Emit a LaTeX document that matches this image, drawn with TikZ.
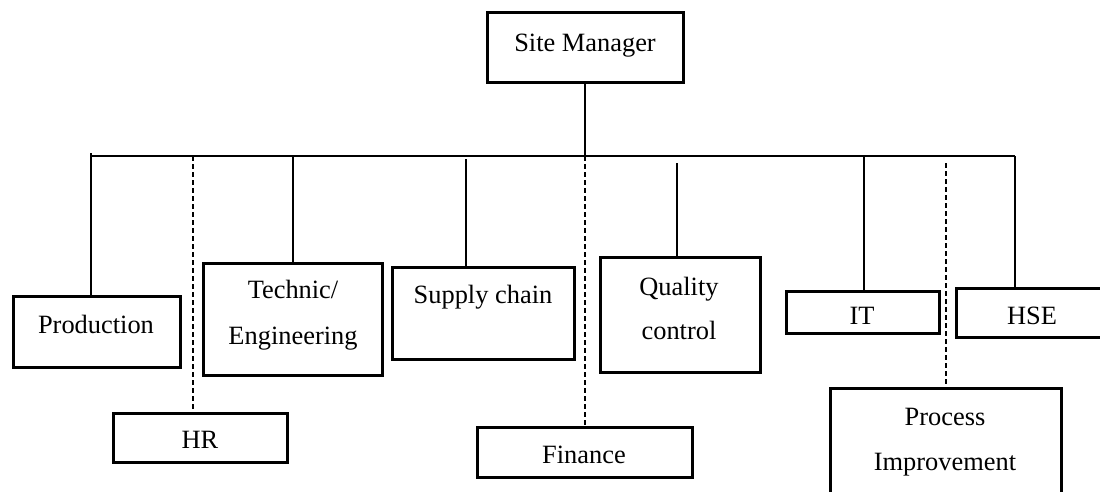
\documentclass[tikz,border=0pt]{standalone}
\usepackage{fontspec}
\setmainfont{Liberation Serif}
\begin{document}
\begin{tikzpicture}[x=1pt,y=-1pt,
  box/.style={draw,line width=3pt,rectangle,inner sep=0pt,outer sep=0pt,anchor=north west},
  txt/.style={anchor=base,inner sep=0pt,font=\fontsize{26.4}{30}\selectfont},
  link/.style={line width=1.2pt},
  dotlink/.style={line width=1.2pt,dash pattern=on 5pt off 3pt}]
\useasboundingbox (0,0) rectangle (1100,492);
\clip (0,0) rectangle (1100,492);

% boxes
\node[box,minimum width=196pt,minimum height=70pt] (sm) at (487,13) {};
\node[box,minimum width=167pt,minimum height=71pt] (prod) at (13,296) {};
\node[box,minimum width=174pt,minimum height=49pt] (hr) at (113,413) {};
\node[box,minimum width=179pt,minimum height=112pt] (tech) at (203,263) {};
\node[box,minimum width=182pt,minimum height=92pt] (sup) at (392,267) {};
\node[box,minimum width=215pt,minimum height=50pt] (fin) at (477,427) {};
\node[box,minimum width=160pt,minimum height=115pt] (qc) at (600,257) {};
\node[box,minimum width=153pt,minimum height=42pt] (it) at (786,291) {};
\node[box,minimum width=154pt,minimum height=49pt] (hse) at (956,288) {};
\node[box,minimum width=231pt,minimum height=122pt] (proc) at (830,388) {};

% labels
\node[txt] (smt) at (585,52) {Site Manager};
\node[txt] (prodt) at (96,333) {Production};
\node[txt] (hrt) at (200,448) {HR};
\node[txt] (techt1) at (293,298) {Technic/};
\node[txt] (techt2) at (293,344) {Engineering};
\node[txt] (supt) at (483,303) {Supply chain};
\node[txt] (fint) at (584,463) {Finance};
\node[txt] (qct1) at (679,295) {Quality};
\node[txt] (qct2) at (679,339) {control};
\node[txt] (itt) at (862,324) {IT};
\node[txt] (hset) at (1032,324) {HSE};
\node[txt] (proct1) at (945,425) {Process};
\node[txt] (proct2) at (945,470) {Improvement};

% bus and drops
\coordinate (busL) at (91,156);
\coordinate (busR) at (1015,156);
\coordinate (busM) at (585,156);
\draw[link] (busL) ++(0,-3) -- (busL) -- (busR);
\draw[link] (sm.south -| busM) -- (busM);
\draw[link] (busL) -- (busL |- prod.north);
\coordinate (hrD) at (193,156);
\draw[dotlink] (hrD) -- (hrD |- hr.north);
\coordinate (techD) at (293,156);
\draw[link] (techD) -- (techD |- tech.north);
\coordinate (supD) at (466,159);
\draw[link] (supD) -- (supD |- sup.north);
\draw[dotlink] (busM) -- (busM |- fin.north);
\coordinate (qcD) at (677,163);
\draw[link] (qcD) -- (qcD |- qc.north);
\coordinate (itD) at (864,156);
\draw[link] (itD) -- (itD |- it.north);
\coordinate (procD) at (946,163);
\draw[dotlink] (procD) -- (procD |- proc.north);
\draw[link] (busR) -- (busR |- hse.north);
\end{tikzpicture}
\end{document}
